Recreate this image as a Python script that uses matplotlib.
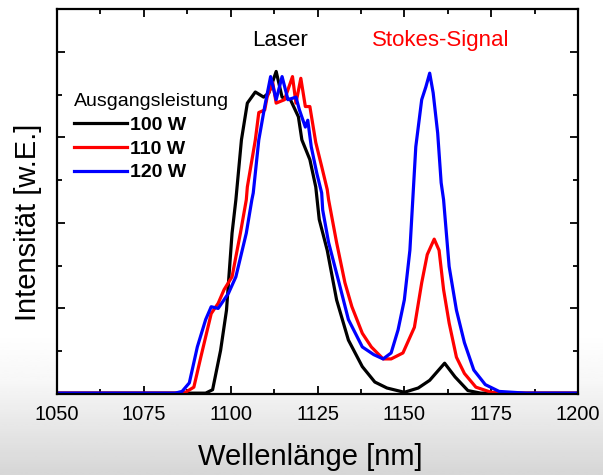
"""Raman/Stokes spectrum at three output powers (slide figure re-draw)."""

import matplotlib

matplotlib.use("Agg")
import matplotlib.pyplot as plt
import numpy as np
from matplotlib.ticker import MultipleLocator

plt.rcParams["font.family"] = ["Liberation Sans", "DejaVu Sans"]

# wavelength [nm] / intensity [a.u.]
wl_100 = [1050, 1070, 1088, 1092.8, 1094.8, 1097.1, 1098.8, 1100.4, 1101.5, 1103.1, 1104.8,
          1107.1, 1109.5, 1111.0, 1113.1, 1114.8, 1117.2, 1119.5, 1120.5, 1122.8, 1124.5,
          1125.5, 1127.8, 1130.5, 1133.9, 1137.9, 1141.5, 1145.0, 1150.0, 1154.0, 1157.3,
          1161.6, 1164.6, 1168.3, 1172, 1185, 1200]
int_100 = [0.01, 0.01, 0.01, 0.01, 0.05, 0.51, 0.98, 1.88, 2.27, 2.97, 3.40,
           3.53, 3.47, 3.52, 3.77, 3.47, 3.44, 3.24, 2.97, 2.74, 2.42,
           2.04, 1.68, 1.10, 0.63, 0.32, 0.14, 0.07, 0.02, 0.07, 0.16,
           0.36, 0.20, 0.04, 0.01, 0.01, 0.01]

wl_110 = [1050, 1070, 1085, 1087.0, 1089.4, 1091.4, 1094.4, 1096.4, 1098.1, 1100.4, 1102.8,
          1104.5, 1104.8, 1107.1, 1108.1, 1109.8, 1110.5, 1112.1, 1113.1, 1115.5, 1117.8,
          1118.8, 1120.2, 1121.5, 1122.8, 1124.5, 1126.2, 1127.8, 1128.2, 1130.5, 1132.9,
          1134.9, 1137.9, 1140.5, 1143.9, 1146.2, 1149.6, 1152.9, 1155.0, 1156.6, 1158.6,
          1160.0, 1161.3, 1162.9, 1165.0, 1167.3, 1170.6, 1175.0, 1185, 1200]
int_110 = [0.01, 0.01, 0.01, 0.02, 0.08, 0.43, 0.94, 1.06, 1.22, 1.37, 1.88,
           2.27, 2.42, 2.97, 3.29, 3.32, 3.47, 3.64, 3.40, 3.44, 3.71,
           3.40, 3.69, 3.36, 3.36, 2.94, 2.66, 2.39, 2.27, 1.77, 1.30,
           1.02, 0.71, 0.55, 0.41, 0.41, 0.48, 0.78, 1.30, 1.63, 1.81,
           1.68, 1.22, 0.83, 0.43, 0.24, 0.08, 0.02, 0.01, 0.01]

wl_120 = [1050, 1070, 1084, 1086.0, 1088.1, 1090.4, 1092.8, 1094.4, 1096.4, 1099.4, 1101.5,
          1104.5, 1106.1, 1106.5, 1108.1, 1109.8, 1111.5, 1113.1, 1114.8, 1116.5, 1118.8,
          1119.8, 1121.5, 1122.2, 1123.2, 1124.8, 1126.2, 1126.5, 1128.2, 1131.2, 1133.9,
          1137.9, 1141.2, 1143.9, 1146.2, 1148.2, 1150.0, 1151.6, 1153.3, 1155.0, 1156.2,
          1157.3, 1158.3, 1159.6, 1160.6, 1161.3, 1162.9, 1165.0, 1167.3, 1170.0, 1173.3,
          1177.3, 1185, 1200]
int_120 = [0.01, 0.01, 0.01, 0.03, 0.13, 0.55, 0.87, 1.02, 1.00, 1.18, 1.37,
           1.88, 2.27, 2.35, 2.97, 3.36, 3.71, 3.44, 3.71, 3.44, 3.47,
           3.32, 3.12, 3.20, 2.89, 2.58, 2.35, 2.15, 1.77, 1.30, 0.87,
           0.55, 0.46, 0.41, 0.48, 0.75, 1.10, 1.68, 2.89, 3.44, 3.59,
           3.75, 3.52, 3.05, 2.47, 2.27, 1.49, 0.98, 0.60, 0.28, 0.11,
           0.03, 0.01, 0.01]

series = [("100 W", wl_100, int_100, "black"),
          ("110 W", wl_110, int_110, "#ff0000"),
          ("120 W", wl_120, int_120, "#0000ff")]

fig = plt.figure(figsize=(6.03, 4.75), dpi=100)

# slide background: white fading into a pale grey towards the bottom
bg = fig.add_axes([0, 0, 1, 1], zorder=-10)
grad = np.ones((200, 1))
grad[:40, 0] = np.linspace(0.84, 0.97, 40)
grad[40:60, 0] = np.linspace(0.97, 1.0, 20)
bg.imshow(grad, cmap="gray", vmin=0, vmax=1, aspect="auto", extent=[0, 1, 0, 1], origin="lower")
bg.axis("off")

ax = fig.add_axes([57 / 603, 1 - 394 / 475, 521 / 603, 385 / 475])
ax.patch.set_facecolor("white")
for label, wl, inten, color in series:
    ax.plot(wl, inten, color=color, lw=2.3, label=label)

ax.set_xlim(1050, 1200)
ax.set_ylim(0, 4.5)
ax.xaxis.set_major_locator(MultipleLocator(25))
ax.xaxis.set_minor_locator(MultipleLocator(12.5))
ax.yaxis.set_major_locator(MultipleLocator(1))
ax.yaxis.set_minor_locator(MultipleLocator(0.5))
ax.tick_params(which="both", direction="in", top=True, right=True, width=1.3)
ax.tick_params(which="major", length=5.5, labelsize=14.5, pad=8)
ax.tick_params(which="minor", length=3.5)
ax.tick_params(axis="y", labelleft=False)
for sp in ax.spines.values():
    sp.set_linewidth(1.6)

fig.text(310 / 603, 1 - 457 / 475, "Wellenlänge [nm]", fontsize=21, ha="center", va="center")
fig.text(28 / 603, 1 - 222 / 475, "Intensität [w.E.]", fontsize=21, ha="center", va="center",
         rotation=90)

ax.text(1114.1, 4.13, "Laser", fontsize=16, ha="center", va="center", color="black")
ax.text(1160.5, 4.13, "Stokes-Signal", fontsize=16, ha="center", va="center", color="#ff0000")

leg = ax.legend(loc="upper left", bbox_to_anchor=(0.033, 0.782), frameon=False,
                title="Ausgangsleistung", title_fontsize=14, handlelength=2.7,
                handletextpad=0.15, labelspacing=0.32, borderpad=0, borderaxespad=0,
                prop={"size": 14, "weight": "bold"})
leg._legend_box.align = "left"

fig.savefig("out.png", dpi=100)
